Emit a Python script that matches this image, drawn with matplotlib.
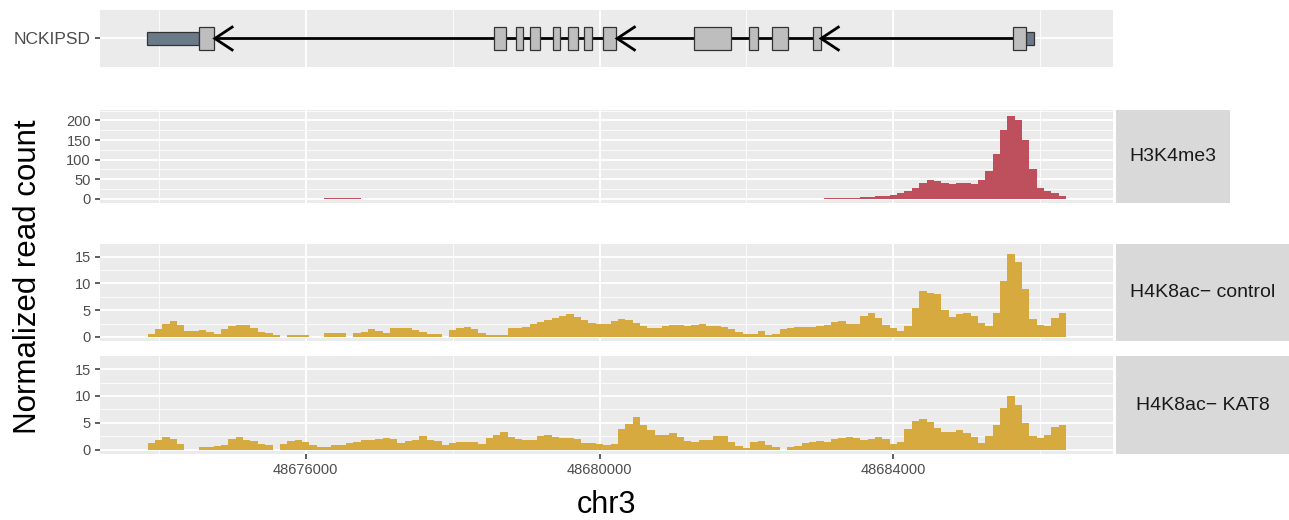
import numpy as np
import matplotlib
matplotlib.use("Agg")
import matplotlib.pyplot as plt
from matplotlib.patches import Rectangle

plt.rcParams['font.family'] = ['Liberation Sans', 'DejaVu Sans']

# ---------------- data ----------------
gene_name = "NCKIPSD"
utr_starts = [48673840, 48685806]
utr_ends = [48674547, 48685915]
exon_starts = [48674547, 48678567, 48678866, 48679056, 48679368, 48679572,
               48679789, 48680047, 48681283, 48682030, 48682343, 48682900,
               48685630]
exon_ends = [48674750, 48678730, 48678961, 48679192, 48679463, 48679708,
             48679898, 48680224, 48681786, 48682153, 48682560, 48683008,
             48685806]
arrow_tips = [48674765, 48680240, 48683015]

bin_start = 48673850
bin_width = 100

h3k4me3 = [0, 0, 0, 0, 0, 0, 0, 0, 0, 0.5,
           0.5, 0.5, 0, 0, 0, 0, 0, 0, 0, 0,
           0, 0, 0, 0, 1, 1.5, 1.5, 1, 1, 0,
           0, 0, 0, 0, 0, 0, 0, 0, 0, 0,
           0, 0, 0, 0, 0, 0, 0.5, 0.5, 0.5, 0,
           0, 0, 0, 0, 0, 0, 0, 0, 0, 0,
           0, 0, 0.5, 0.5, 0.5, 0, 0.5, 0.5, 0.5, 0.5,
           0.5, 0.5, 0.5, 0.5, 0, 0, 0, 0, 0.5, 0.5,
           0.5, 0, 0, 0, 0, 0, 0, 0, 0, 0,
           0, 0, 1, 1, 2, 2, 3, 4, 5, 6,
           8, 10, 14, 19, 28, 40, 47, 46, 40, 39,
           41, 41, 39, 48, 72, 115, 175, 212, 200, 150,
           75, 28, 20, 14, 8]

h4k8ac_control = [0.6, 1.5, 2.5, 2.9, 2.2, 1.2, 1.1, 1.3, 1.0, 0.5,
                  1.4, 2.1, 2.3, 2.2, 1.6, 1.0, 0.7, 0.4, 0.0, 0.3,
                  0.3, 0.3, 0.0, 0.0, 0.8, 0.8, 0.8, 0.0, 0.8, 0.9,
                  1.4, 1.2, 0.8, 1.6, 1.7, 1.7, 1.3, 0.9, 0.6, 0.6,
                  0.0, 1.3, 1.6, 1.8, 1.5, 0.8, 0.3, 0.3, 0.4, 1.7,
                  1.6, 1.8, 2.4, 2.8, 3.1, 3.5, 3.9, 4.3, 3.7, 3.1,
                  2.6, 2.5, 2.5, 2.9, 3.3, 3.2, 2.6, 2.0, 1.7, 1.7,
                  2.0, 2.2, 2.2, 2.0, 2.2, 2.4, 2.1, 2.1, 1.9, 1.5,
                  0.9, 0.6, 0.6, 1.2, 0.4, 0.5, 1.5, 1.6, 1.8, 1.8,
                  1.9, 2.0, 2.3, 2.8, 2.9, 2.4, 2.5, 4.0, 4.4, 3.6,
                  2.3, 1.6, 1.2, 2.0, 5.5, 8.6, 8.3, 8.0, 5.0, 3.8,
                  4.2, 4.5, 4.0, 2.6, 2.0, 4.5, 10.5, 15.5, 14.0, 9.0,
                  3.3, 2.2, 2.0, 3.5, 4.5]

h4k8ac_kat8 = [1.3, 1.7, 2.4, 1.9, 1.0, 0.0, 0.0, 0.4, 0.45, 0.6,
               0.8, 1.9, 2.3, 1.8, 1.6, 1.1, 0.8, 0.0, 1.1, 1.6,
               1.7, 1.5, 0.9, 0.45, 0.5, 0.9, 0.9, 1.2, 1.5, 1.8,
               1.7, 1.9, 2.2, 2.0, 1.3, 1.6, 1.7, 2.6, 1.8, 1.6,
               0.8, 1.2, 1.5, 1.5, 1.4, 1.1, 2.1, 2.8, 3.2, 2.4,
               2.0, 1.8, 1.7, 2.6, 2.7, 2.3, 2.2, 2.1, 1.9, 1.3,
               1.3, 1.1, 0.8, 1.0, 3.8, 4.7, 6.0, 4.6, 3.6, 2.7,
               2.8, 3.0, 2.3, 1.6, 1.5, 1.7, 1.8, 2.6, 2.5, 1.5,
               0.6, 0.3, 1.4, 1.6, 0.8, 0.5, 0.0, 0.5, 0.6, 1.2,
               1.4, 1.6, 1.5, 2.0, 2.2, 2.3, 2.1, 1.8, 1.9, 2.3,
               2.0, 1.1, 1.5, 3.9, 5.3, 5.7, 5.1, 4.0, 3.2, 3.2,
               3.7, 3.0, 2.4, 1.2, 2.5, 4.5, 7.8, 10.0, 8.3, 5.0,
               2.6, 2.2, 2.8, 4.2, 4.6]

track_labels = ["H3K4me3", "H4K8ac\u2212 control", "H4K8ac\u2212 KAT8"]
x_ticks = [48676000, 48680000, 48684000]
x_minor = [48674000, 48678000, 48682000, 48686000]
x_limits = (48673202, 48686988)
h3_ticks = [0, 50, 100, 150, 200]
h3_minor = [25, 75, 125, 175, 225]
h4_ticks = [0, 5, 10, 15]
h4_minor = [2.5, 7.5, 12.5]

# ---------------- style ----------------
W, H = 1289, 520
fig = plt.figure(figsize=(W / 100, H / 100), dpi=100)
fig.patch.set_facecolor('white')

PANEL_BG = '#EBEBEB'
STRIP_BG = '#D9D9D9'
TICK_C = '#4D4D4D'
TICKLINE_C = '#333333'
TICK_FS = 10.5


def add_ax(l, t, r, b):
    return fig.add_axes([l / W, 1 - b / H, (r - l) / W, (b - t) / H])


def style_panel(ax, yticks, yminor, show_x=False):
    ax.set_facecolor(PANEL_BG)
    for s in ax.spines.values():
        s.set_visible(False)
    ax.set_xlim(*x_limits)
    ax.set_xticks(x_ticks)
    ax.set_xticks(x_minor, minor=True)
    ax.set_yticks(yticks)
    ax.set_yticks(yminor, minor=True)
    ax.grid(which='major', color='white', linewidth=1.3)
    ax.grid(which='minor', color='white', linewidth=0.6)
    ax.set_axisbelow(True)
    ax.tick_params(axis='both', which='minor', length=0)
    ax.tick_params(axis='y', which='major', length=3.5, width=1.1,
                   color=TICKLINE_C, labelcolor=TICK_C, labelsize=TICK_FS, pad=3)
    if show_x:
        ax.tick_params(axis='x', which='major', length=3.5, width=1.1,
                       color=TICKLINE_C, labelcolor=TICK_C, labelsize=TICK_FS, pad=3)
        ax.set_xticklabels([str(t) for t in x_ticks])
    else:
        ax.tick_params(axis='x', which='major', length=0, labelbottom=False)


def add_strip(t, b, r, label):
    sax = add_ax(1116, t, r, b)
    sax.set_facecolor(STRIP_BG)
    for s in sax.spines.values():
        s.set_visible(False)
    sax.set_xticks([])
    sax.set_yticks([])
    sax.text(0.5, 0.5, label, ha='center', va='center', fontsize=14,
             color='#1A1A1A', transform=sax.transAxes)


# ---------------- gene track ----------------
gax = add_ax(100, 10, 1113, 67)
style_panel(gax, [1], [])
gax.set_ylim(0.4, 1.6)
gax.set_yticklabels([gene_name])
gax.tick_params(axis='y', labelsize=12.5)
gax.plot([min(utr_starts), max(utr_ends)], [1, 1], color='black', lw=2.0,
         zorder=2, solid_capstyle='butt')
ex_h = 0.5
utr_h = 0.26
for s, e in zip(utr_starts, utr_ends):
    gax.add_patch(Rectangle((s, 1 - utr_h / 2), e - s, utr_h, facecolor='#6B7A89',
                            edgecolor='#333333', lw=0.9, zorder=3))
for s, e in zip(exon_starts, exon_ends):
    gax.add_patch(Rectangle((s, 1 - ex_h / 2), e - s, ex_h, facecolor='#BEBEBE',
                            edgecolor='#333333', lw=0.9, zorder=3))
arrow_len = 235
for tip in arrow_tips:
    gax.plot([tip + arrow_len, tip, tip + arrow_len], [1 + 0.24, 1, 1 - 0.24],
             color='black', lw=2.0, zorder=4, solid_joinstyle='miter')

# ---------------- signal tracks ----------------
n = len(h3k4me3)
pos = bin_start + bin_width * np.arange(n)

ax1 = add_ax(100, 110, 1113, 203)
style_panel(ax1, h3_ticks, h3_minor)
ax1.bar(pos, h3k4me3, width=bin_width, align='edge', color='#BE4F5C',
        linewidth=0, zorder=3)
ax1.set_ylim(-10.8, 226.8)
add_strip(110, 203, 1230, track_labels[0])

ax2 = add_ax(100, 243.7, 1113, 341.4)
style_panel(ax2, h4_ticks, h4_minor)
ax2.bar(pos, h4k8ac_control, width=bin_width, align='edge', color='#D7AA40',
        linewidth=0, zorder=3)
ax2.set_ylim(-0.83, 17.43)
add_strip(243.7, 341.4, 1289, track_labels[1])

ax3 = add_ax(100, 356.2, 1113, 454)
style_panel(ax3, h4_ticks, h4_minor, show_x=True)
ax3.bar(pos, h4k8ac_kat8, width=bin_width, align='edge', color='#D7AA40',
        linewidth=0, zorder=3)
ax3.set_ylim(-0.83, 17.43)
add_strip(356.2, 454, 1289, track_labels[2])

fig.text(28 / W, 1 - 277 / H, "Normalized read count", rotation=90,
         ha='center', va='center', fontsize=22.5, color='black')
fig.text(607 / W, 1 - 505 / H, "chr3", ha='center', va='center',
         fontsize=22, color='black')

fig.savefig("out.png", dpi=100, facecolor='white')
